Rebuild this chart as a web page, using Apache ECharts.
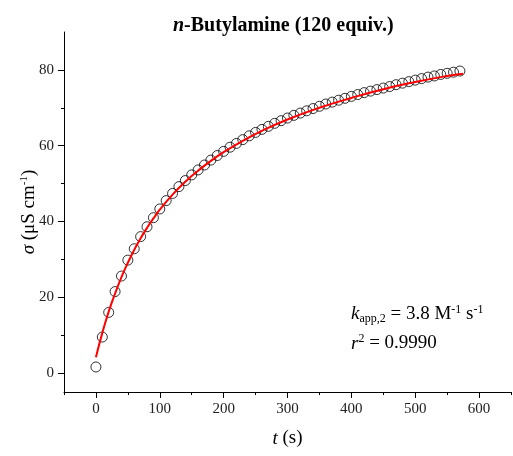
<!DOCTYPE html>
<html>
<head>
<meta charset="utf-8">
<script src="https://cdn.jsdelivr.net/npm/echarts@6/dist/echarts.min.js"></script>
<style>
html,body{margin:0;padding:0;background:#fff;}
#c{width:513px;height:456px;}
</style>
</head>
<body>
<div id="c"></div>
<script>
// Measured conductivity data (t in s, sigma in µS cm^-1)
const times = [0,10,20,30,40,50,60,70,80,90,100,110,120,130,140,150,160,170,180,190,
  200,210,220,230,240,250,260,270,280,290,300,310,320,330,340,350,360,370,380,390,
  400,410,420,430,440,450,460,470,480,490,500,510,520,530,540,550,560,570];
const sigma = [1.6,9.5,16.0,21.5,25.6,29.8,32.8,36.0,38.6,41.0,43.3,45.5,47.4,49.2,50.8,52.3,53.6,54.9,56.2,57.4,
  58.5,59.6,60.6,61.6,62.6,63.5,64.3,65.1,65.9,66.6,67.3,68.0,68.6,69.2,69.8,70.4,71.0,71.5,72.0,72.5,
  73.0,73.5,74.0,74.4,74.8,75.2,75.6,76.1,76.5,76.9,77.3,77.7,78.1,78.4,78.8,79.1,79.4,79.7];
// Fitted curve
const fitTimes = [0,10,20,30,40,50,60,70,80,90,100,120,140,160,180,200,230,260,300,350,400,450,500,550,575];
const fitValues = [4.2,10.6,16.2,21.0,25.3,29.1,32.5,35.6,38.3,40.8,43.1,47.1,50.5,53.4,56.0,58.3,61.3,63.9,66.9,70.0,72.6,74.9,76.8,78.4,79.0];
// Tick labels
const xTicks = [0,100,200,300,400,500,600];
const xMinorTicks = [-50,50,150,250,350,450,550,650];
const yTicks = [0,20,40,60,80];
const yMinorTicks = [10,30,50,70];

const FONT = '"Liberation Serif", "DejaVu Serif", serif';
const chart = echarts.init(document.getElementById('c'), null, {renderer:'canvas'});

const scatterData = times.map((t,i)=>[t, sigma[i]]);
const fitData = fitTimes.map((t,i)=>[t, fitValues[i]]);

const axisCommonX = {type:'value', min:-50, max:650, gridIndex:0, splitLine:{show:false}};
const axisCommonY = {type:'value', min:-5, max:90, gridIndex:0, splitLine:{show:false}};

chart.setOption({
  animation:false,
  backgroundColor:'#fff',
  title:{
    text:'{i|n}-Butylamine (120 equiv.)',
    left:168, top:11,
    textStyle:{
      fontFamily:FONT, fontSize:20, fontWeight:'bold', color:'#000',
      rich:{ i:{fontFamily:FONT, fontSize:20, fontWeight:'bold', fontStyle:'italic', color:'#000'} }
    }
  },
  grid:{left:64, top:32, right:2, bottom:64},
  xAxis:[
    Object.assign({}, axisCommonX, {
      position:'bottom',
      axisLine:{show:true, onZero:false, lineStyle:{color:'#000', width:1}},
      axisTick:{show:true, length:6, customValues:xTicks, lineStyle:{color:'#000'}},
      axisLabel:{show:true, customValues:xTicks, margin:10, fontFamily:FONT, fontSize:15, color:'#222'},
      name:'{i|t} (s)', nameLocation:'middle', nameGap:37, nameMoveOverlap:false,
      nameTextStyle:{fontFamily:FONT, fontSize:19, color:'#000',
        rich:{i:{fontFamily:FONT, fontSize:19, fontStyle:'italic', color:'#000'}}}
    }),
    Object.assign({}, axisCommonX, {
      position:'bottom',
      axisLine:{show:false, onZero:false},
      axisTick:{show:true, length:3, customValues:xMinorTicks, lineStyle:{color:'#000'}},
      axisLabel:{show:false}
    })
  ],
  yAxis:[
    Object.assign({}, axisCommonY, {
      position:'left',
      axisLine:{show:true, onZero:false, lineStyle:{color:'#000', width:1}},
      axisTick:{show:true, length:6, customValues:yTicks, lineStyle:{color:'#000'}},
      axisLabel:{show:true, customValues:yTicks, margin:10, fontFamily:FONT, fontSize:15, color:'#222'},
      name:'{i|σ} (μS cm{sup|-1})', nameLocation:'middle', nameGap:24, nameMoveOverlap:false,
      nameTextStyle:{fontFamily:FONT, fontSize:19, color:'#000', lineHeight:22,
        rich:{
          i:{fontFamily:FONT, fontSize:19, fontStyle:'italic', color:'#000', lineHeight:22},
          sup:{fontFamily:FONT, fontSize:11, color:'#000', lineHeight:22, padding:[0,0,9,0]}
        }}
    }),
    Object.assign({}, axisCommonY, {
      position:'left',
      axisLine:{show:false, onZero:false},
      axisTick:{show:true, length:3, customValues:yMinorTicks, lineStyle:{color:'#000'}},
      axisLabel:{show:false}
    })
  ],
  graphic:[
    {
      type:'text', left:351, top:303,
      style:{
        text:'{k|k}{sub|app,2}{n| = 3.8 M}{sup|-1}{n| s}{sup|-1}',
        rich:{
          k:{fontFamily:FONT, fontSize:19, fontStyle:'italic', fill:'#000', lineHeight:24},
          n:{fontFamily:FONT, fontSize:19, fill:'#000', lineHeight:24},
          sub:{fontFamily:FONT, fontSize:12, fill:'#000', lineHeight:24, padding:[10,0,0,0]},
          sup:{fontFamily:FONT, fontSize:12, fill:'#000', lineHeight:24, padding:[0,0,9,0]}
        }
      }
    },
    {
      type:'text', left:351, top:333,
      style:{
        text:'{k|r}{sup|2}{n| = 0.9990}',
        rich:{
          k:{fontFamily:FONT, fontSize:19, fontStyle:'italic', fill:'#000', lineHeight:24},
          n:{fontFamily:FONT, fontSize:19, fill:'#000', lineHeight:24},
          sup:{fontFamily:FONT, fontSize:12, fill:'#000', lineHeight:24, padding:[0,0,9,0]}
        }
      }
    }
  ],
  series:[
    {
      type:'scatter', xAxisIndex:0, yAxisIndex:0,
      data:scatterData, symbol:'circle', symbolSize:10,
      itemStyle:{color:'rgba(255,255,255,0)', borderColor:'#000', borderWidth:1},
      z:2
    },
    {
      type:'line', xAxisIndex:0, yAxisIndex:0,
      data:fitData, smooth:true, showSymbol:false, symbol:'none',
      lineStyle:{color:'#ff0000', width:2},
      z:3
    }
  ]
});
</script>
</body>
</html>
